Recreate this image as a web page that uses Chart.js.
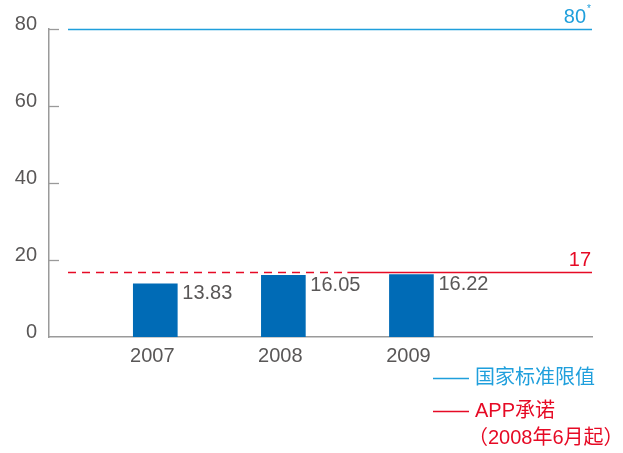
<!DOCTYPE html>
<html>
<head>
<meta charset="utf-8">
<script src="https://cdn.jsdelivr.net/npm/chart.js@4.4.1/dist/chart.umd.min.js"></script>
<style>
html,body{margin:0;padding:0;background:#fff;}
#wrap{width:623px;height:453px;position:relative;}
</style>
</head>
<body>
<div id="wrap"><canvas id="c" width="623" height="453"></canvas></div>
<script>
// ---- data ----
const categories = ['2007', '2008', '2009'];
const emissions = [13.83, 16.05, 16.22];
const nationalLimit = 80;
const appCommitment = 17;
const commitmentStart = 1.5; // from mid-2008 (between 2008 and 2009)
const yTicks = [0, 20, 40, 60, 80];
const legendLabels = ['国家标准限值', 'APP承诺', '（2008年6月起）'];

const GRAY = '#595757';
const AXIS = '#9a9a9a';
const BAR = '#006bb6';
const BLUE = '#1f9fdc';
const RED = '#e60a25';
const FONT = '"Liberation Sans", Arial, sans-serif';
const CJK = '"Liberation Sans", "Noto Sans CJK SC", sans-serif';

const overlay = {
  id: 'overlay',
  afterDatasetsDraw(chart) {
    const ctx = chart.ctx;
    const xs = chart.scales.x, ys = chart.scales.y;
    const ca = chart.chartArea;
    const lineStart = ca.left + 19;
    ctx.save();
    // y tick marks (inward)
    ctx.strokeStyle = AXIS; ctx.lineWidth = 1.3;
    yTicks.forEach(v => {
      if (v === 0) return;
      const y = Math.round(ys.getPixelForValue(v)) + 0.5;
      ctx.beginPath(); ctx.moveTo(ca.left, y); ctx.lineTo(ca.left + 10, y); ctx.stroke();
    });
    // national limit line
    const yb = Math.round(ys.getPixelForValue(nationalLimit)) + 0.5;
    ctx.strokeStyle = BLUE; ctx.lineWidth = 1.5;
    ctx.beginPath(); ctx.moveTo(lineStart, yb); ctx.lineTo(ca.right, yb); ctx.stroke();
    // APP commitment line
    const yr = Math.round(ys.getPixelForValue(appCommitment)) + 0.5;
    const xm = xs.getPixelForValue(commitmentStart);
    ctx.strokeStyle = RED; ctx.lineWidth = 1.3;
    ctx.setLineDash([8, 6]);
    ctx.beginPath(); ctx.moveTo(lineStart, yr); ctx.lineTo(xm, yr); ctx.stroke();
    ctx.setLineDash([]);
    ctx.beginPath(); ctx.moveTo(xm, yr); ctx.lineTo(ca.right, yr); ctx.stroke();
    // line labels
    ctx.font = '20px ' + FONT;
    ctx.textBaseline = 'middle';
    ctx.textAlign = 'right';
    ctx.fillStyle = BLUE;
    ctx.fillText(String(nationalLimit), ca.right - 6, yb - 12);
    ctx.font = '10px ' + FONT;
    ctx.textAlign = 'left';
    ctx.fillText('*', ca.right - 5, yb - 20);
    ctx.font = '20px ' + FONT;
    ctx.textAlign = 'right';
    ctx.fillStyle = RED;
    ctx.fillText(String(appCommitment), ca.right - 1, yr - 12);
    // bar value labels
    ctx.fillStyle = GRAY;
    ctx.textAlign = 'left';
    const meta = chart.getDatasetMeta(0);
    meta.data.forEach((bar, i) => {
      ctx.fillText(emissions[i].toFixed(2), bar.x + bar.width / 2 + 5, bar.y + 10);
    });
    // legend
    const lx = 433, tx = 475;
    const rows = [[378, BLUE, legendLabels[0], true], [411, RED, legendLabels[1], true], [438, RED, legendLabels[2], false]];
    ctx.font = '20px ' + CJK;
    rows.forEach(([y, col, txt, line]) => {
      if (line) {
        ctx.strokeStyle = col; ctx.lineWidth = 1.3;
        ctx.beginPath(); ctx.moveTo(lx, y + 0.5); ctx.lineTo(lx + 36, y + 0.5); ctx.stroke();
      }
      ctx.fillStyle = col;
      ctx.fillText(txt, line ? tx : tx - 7, y);
    });
    ctx.restore();
  }
};

new Chart(document.getElementById('c'), {
  type: 'bar',
  data: {
    datasets: [{
      data: emissions.map((v, i) => ({ x: i, y: v })),
      backgroundColor: BAR,
      borderWidth: 0,
      barThickness: 44
    }]
  },
  options: {
    responsive: false,
    animation: false,
    layout: { padding: { top: 29, right: 31, left: 0, bottom: 0 } },
    plugins: { legend: { display: false }, tooltip: { enabled: false } },
    scales: {
      x: {
        type: 'linear',
        offset: false,
        min: -0.83,
        max: 3.41,
        afterBuildTicks(s) { s.ticks = categories.map((c, i) => ({ value: i })); },
        afterFit(s) { s.height = 116; },
        ticks: {
          callback: (v) => categories[v] ?? '',
          color: GRAY,
          font: { family: FONT, size: 20 },
          padding: 7,
          labelOffset: -3,
          maxRotation: 0,
          autoSkip: false
        },
        grid: { display: false, drawTicks: false, offset: false },
        border: { display: true, color: AXIS, width: 1.5 }
      },
      y: {
        min: 0,
        max: 80,
        afterBuildTicks(s) { s.ticks = yTicks.map(v => ({ value: v })); },
        afterFit(s) { s.width = 49; },
        ticks: {
          color: GRAY,
          font: { family: FONT, size: 20 },
          padding: 12,
          labelOffset: -5
        },
        grid: { display: false, drawTicks: false },
        border: { display: true, color: AXIS, width: 1.5 }
      }
    }
  },
  plugins: [overlay]
});
</script>
</body>
</html>
